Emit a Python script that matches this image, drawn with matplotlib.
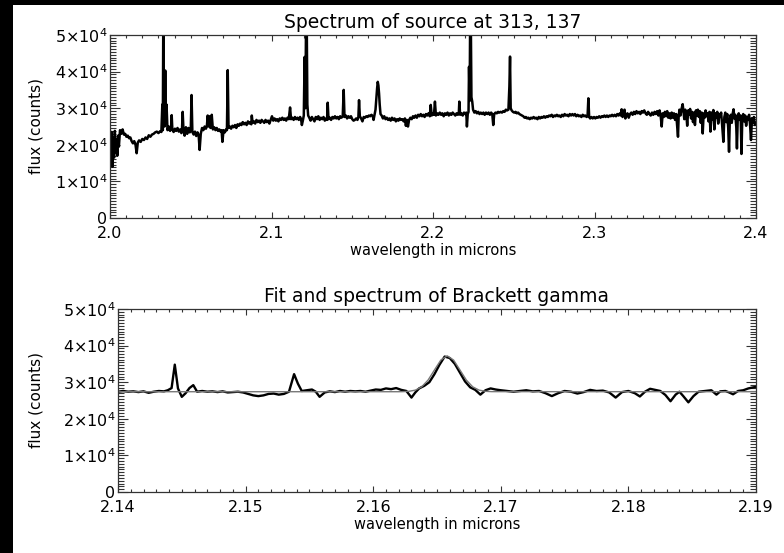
import numpy as np
import matplotlib
matplotlib.use("Agg")
from matplotlib import pyplot as plt
from matplotlib.patches import Rectangle
from matplotlib.ticker import MultipleLocator, FixedLocator, FuncFormatter, FormatStrFormatter

# full K-band spectrum of the source (wavelength in microns, flux in 1e3 counts)
wave_top = [
    2.0000, 2.0005, 2.0010, 2.0015, 2.0020, 2.0025, 2.0030, 2.0035, 2.0040, 2.0045,
    2.0050, 2.0055, 2.0062, 2.0070, 2.0078, 2.0086, 2.0094, 2.0102, 2.0110, 2.0118,
    2.0126, 2.0134, 2.0142, 2.0150, 2.0158, 2.0165, 2.0172, 2.0180, 2.0190, 2.0200,
    2.0210, 2.0220, 2.0230, 2.0240, 2.0250, 2.0260, 2.0270, 2.0280, 2.0290, 2.0300,
    2.0310, 2.0318, 2.0324, 2.0327, 2.0330, 2.0334, 2.0338, 2.0342, 2.0346, 2.0350,
    2.0356, 2.0364, 2.0372, 2.0378, 2.0382, 2.0386, 2.0394, 2.0402, 2.0410, 2.0418,
    2.0426, 2.0434, 2.0442, 2.0446, 2.0450, 2.0455, 2.0462, 2.0470, 2.0478, 2.0486,
    2.0494, 2.0500, 2.0505, 2.0510, 2.0518, 2.0526, 2.0534, 2.0542, 2.0549, 2.0555,
    2.0562, 2.0570, 2.0578, 2.0586, 2.0594, 2.0600, 2.0605, 2.0610, 2.0617, 2.0622,
    2.0630, 2.0637, 2.0645, 2.0653, 2.0661, 2.0669, 2.0677, 2.0685, 2.0691, 2.0696,
    2.0703, 2.0711, 2.0719, 2.0724, 2.0729, 2.0734, 2.0742, 2.0750, 2.0758, 2.0766,
    2.0774, 2.0782, 2.0790, 2.0798, 2.0806, 2.0814, 2.0822, 2.0830, 2.0838, 2.0846,
    2.0854, 2.0862, 2.0870, 2.0875, 2.0878, 2.0883, 2.0891, 2.0899, 2.0907, 2.0915,
    2.0923, 2.0931, 2.0939, 2.0947, 2.0955, 2.0963, 2.0971, 2.0979, 2.0987, 2.0995,
    2.1003, 2.1011, 2.1019, 2.1027, 2.1035, 2.1043, 2.1051, 2.1059, 2.1067, 2.1075,
    2.1083, 2.1091, 2.1099, 2.1107, 2.1115, 2.1121, 2.1129, 2.1137, 2.1145, 2.1153,
    2.1161, 2.1169, 2.1177, 2.1183, 2.1188, 2.1194, 2.1200, 2.1205, 2.1210, 2.1214,
    2.1218, 2.1222, 2.1227, 2.1234, 2.1242, 2.1250, 2.1258, 2.1266, 2.1274, 2.1282,
    2.1290, 2.1298, 2.1306, 2.1314, 2.1322, 2.1330, 2.1338, 2.1344, 2.1348, 2.1353,
    2.1361, 2.1369, 2.1377, 2.1385, 2.1393, 2.1401, 2.1409, 2.1417, 2.1425, 2.1433,
    2.1441, 2.1447, 2.1452, 2.1460, 2.1468, 2.1476, 2.1484, 2.1492, 2.1500, 2.1508,
    2.1516, 2.1524, 2.1532, 2.1538, 2.1542, 2.1547, 2.1555, 2.1563, 2.1571, 2.1579,
    2.1587, 2.1595, 2.1603, 2.1611, 2.1619, 2.1627, 2.1632, 2.1638, 2.1644, 2.1650,
    2.1654, 2.1658, 2.1662, 2.1666, 2.1670, 2.1675, 2.1682, 2.1690, 2.1698, 2.1706,
    2.1714, 2.1722, 2.1730, 2.1738, 2.1746, 2.1754, 2.1762, 2.1770, 2.1778, 2.1786,
    2.1794, 2.1802, 2.1810, 2.1818, 2.1826, 2.1832, 2.1838, 2.1845, 2.1852, 2.1860,
    2.1868, 2.1876, 2.1884, 2.1892, 2.1900, 2.1908, 2.1916, 2.1924, 2.1932, 2.1940,
    2.1948, 2.1956, 2.1964, 2.1972, 2.1980, 2.1986, 2.1992, 2.2000, 2.2006, 2.2012,
    2.2018, 2.2026, 2.2034, 2.2042, 2.2050, 2.2058, 2.2066, 2.2074, 2.2082, 2.2090,
    2.2098, 2.2106, 2.2114, 2.2122, 2.2130, 2.2138, 2.2146, 2.2154, 2.2160, 2.2163,
    2.2168, 2.2176, 2.2184, 2.2192, 2.2200, 2.2206, 2.2210, 2.2215, 2.2220, 2.2223,
    2.2227, 2.2230, 2.2234, 2.2238, 2.2243, 2.2248, 2.2256, 2.2264, 2.2272, 2.2280,
    2.2288, 2.2296, 2.2304, 2.2312, 2.2320, 2.2328, 2.2336, 2.2344, 2.2352, 2.2360,
    2.2367, 2.2373, 2.2379, 2.2387, 2.2395, 2.2403, 2.2411, 2.2419, 2.2427, 2.2435,
    2.2443, 2.2451, 2.2459, 2.2467, 2.2473, 2.2477, 2.2481, 2.2487, 2.2495, 2.2503,
    2.2511, 2.2519, 2.2527, 2.2535, 2.2543, 2.2551, 2.2559, 2.2567, 2.2575, 2.2583,
    2.2591, 2.2599, 2.2607, 2.2615, 2.2623, 2.2631, 2.2639, 2.2647, 2.2655, 2.2663,
    2.2671, 2.2679, 2.2687, 2.2695, 2.2703, 2.2711, 2.2719, 2.2727, 2.2735, 2.2743,
    2.2751, 2.2759, 2.2767, 2.2775, 2.2783, 2.2791, 2.2799, 2.2807, 2.2815, 2.2823,
    2.2831, 2.2839, 2.2847, 2.2855, 2.2863, 2.2871, 2.2879, 2.2887, 2.2895, 2.2903,
    2.2911, 2.2919, 2.2927, 2.2935, 2.2943, 2.2951, 2.2957, 2.2962, 2.2967, 2.2973,
    2.2981, 2.2989, 2.2997, 2.3005, 2.3013, 2.3021, 2.3029, 2.3037, 2.3045, 2.3053,
    2.3061, 2.3069, 2.3077, 2.3085, 2.3093, 2.3101, 2.3109, 2.3117, 2.3125, 2.3133,
    2.3141, 2.3149, 2.3157, 2.3163, 2.3168, 2.3174, 2.3180, 2.3186, 2.3191, 2.3197,
    2.3204, 2.3212, 2.3220, 2.3228, 2.3236, 2.3244, 2.3252, 2.3260, 2.3268, 2.3276,
    2.3284, 2.3292, 2.3300, 2.3308, 2.3316, 2.3324, 2.3332, 2.3340, 2.3348, 2.3356,
    2.3364, 2.3372, 2.3380, 2.3388, 2.3396, 2.3403, 2.3410, 2.3416, 2.3422, 2.3429,
    2.3436, 2.3443, 2.3450, 2.3457, 2.3464, 2.3471, 2.3478, 2.3485, 2.3492, 2.3499,
    2.3506, 2.3512, 2.3517, 2.3521, 2.3526, 2.3532, 2.3539, 2.3546, 2.3551, 2.3556,
    2.3562, 2.3568, 2.3574, 2.3580, 2.3586, 2.3592, 2.3598, 2.3604, 2.3610, 2.3616,
    2.3622, 2.3628, 2.3634, 2.3640, 2.3646, 2.3652, 2.3658, 2.3664, 2.3670, 2.3676,
    2.3682, 2.3688, 2.3694, 2.3700, 2.3706, 2.3712, 2.3718, 2.3724, 2.3730, 2.3736,
    2.3742, 2.3748, 2.3754, 2.3760, 2.3766, 2.3772, 2.3778, 2.3784, 2.3790, 2.3798,
    2.3804, 2.3810, 2.3816, 2.3822, 2.3828, 2.3833, 2.3838, 2.3844, 2.3850, 2.3856,
    2.3861, 2.3866, 2.3872, 2.3878, 2.3882, 2.3887, 2.3893, 2.3899, 2.3905, 2.3910,
    2.3915, 2.3921, 2.3927, 2.3933, 2.3939, 2.3945, 2.3951, 2.3957, 2.3963, 2.3969,
    2.3975, 2.3981, 2.3987, 2.3993, 2.4000,
]
flux_top = [
    21.0, 15.0, 23.5, 14.0, 22.0, 16.5, 23.8, 18.0, 21.5, 17.0,
    22.5, 19.5, 24.0, 23.0, 24.2, 22.8, 23.0, 22.2, 22.5, 21.8,
    22.0, 21.0, 20.4, 21.0, 20.0, 17.7, 20.6, 21.2, 20.8, 21.6,
    21.3, 22.0, 21.6, 22.6, 22.2, 22.8, 23.0, 23.4, 23.6, 23.2,
    23.7, 23.5, 31.0, 24.0, 55.0, 32.0, 25.0, 40.3, 26.0, 31.0,
    24.0, 25.0, 23.8, 24.5, 28.1, 24.2, 23.5, 24.4, 23.8, 24.6,
    23.6, 24.2, 23.2, 24.5, 29.0, 24.0, 22.5, 24.8, 23.0, 24.6,
    23.4, 24.0, 33.6, 23.5, 22.8, 23.6, 22.4, 23.4, 22.6, 18.6,
    23.0, 24.6, 24.0, 25.0, 24.4, 25.2, 28.0, 25.0, 27.8, 24.6,
    28.2, 24.2, 24.8, 24.0, 24.6, 23.8, 24.2, 23.6, 24.0, 20.8,
    24.0, 23.4, 24.2, 24.0, 40.4, 24.6, 25.0, 24.4, 25.2, 24.8,
    25.4, 24.6, 25.6, 25.2, 25.8, 25.4, 26.2, 25.6, 26.0, 25.4,
    26.4, 25.8, 26.2, 25.6, 28.0, 26.0, 26.4, 25.8, 26.8, 26.2,
    26.6, 26.0, 26.8, 26.4, 26.0, 26.8, 26.2, 26.6, 25.8, 26.8,
    27.8, 26.6, 27.2, 26.6, 27.0, 26.4, 27.2, 26.8, 27.4, 26.8,
    27.2, 26.6, 27.4, 27.0, 30.2, 27.0, 27.4, 26.8, 27.6, 27.0,
    27.4, 26.8, 27.6, 27.0, 25.4, 26.6, 28.0, 44.0, 30.0, 55.0,
    55.0, 31.0, 28.0, 27.4, 26.6, 27.6, 27.0, 26.4, 27.6, 27.0,
    27.8, 26.8, 27.4, 27.0, 27.6, 26.6, 27.2, 26.8, 31.5, 27.0,
    27.4, 26.8, 27.6, 27.2, 27.8, 27.2, 27.6, 27.0, 27.8, 27.4,
    27.8, 35.0, 27.6, 28.0, 27.2, 27.8, 27.4, 27.8, 27.0, 26.6,
    26.8, 27.2, 26.8, 27.6, 32.2, 27.8, 27.2, 26.4, 27.6, 27.4,
    27.8, 27.6, 28.0, 27.8, 28.2, 27.8, 26.8, 28.2, 29.6, 33.1,
    35.5, 37.2, 36.2, 34.0, 31.0, 28.4, 28.0, 27.2, 27.8, 27.0,
    27.4, 26.8, 27.2, 26.6, 27.4, 26.8, 27.2, 26.4, 27.0, 26.6,
    27.2, 26.8, 27.0, 26.4, 27.2, 25.2, 26.8, 25.0, 26.8, 27.4,
    27.0, 27.8, 27.4, 28.0, 27.4, 28.2, 27.8, 28.4, 27.8, 28.2,
    27.6, 28.4, 28.0, 28.6, 27.8, 30.9, 28.0, 28.6, 28.2, 31.8,
    28.0, 28.6, 28.2, 28.8, 28.2, 28.6, 27.8, 28.6, 28.2, 28.8,
    28.0, 28.6, 28.2, 28.8, 28.4, 28.0, 28.6, 28.2, 28.8, 31.8,
    28.2, 28.6, 28.0, 28.8, 28.4, 28.8, 25.0, 28.4, 29.0, 41.3,
    32.0, 55.0, 55.0, 33.0, 31.8, 29.6, 28.8, 29.2, 28.6, 29.0,
    28.4, 28.8, 28.4, 28.8, 28.2, 28.8, 28.4, 28.8, 28.2, 28.8,
    28.4, 25.4, 28.4, 28.8, 28.6, 29.0, 28.8, 29.0, 28.8, 29.2,
    29.0, 29.6, 29.4, 29.6, 36.0, 44.1, 30.0, 29.4, 29.0, 28.8,
    29.0, 28.6, 28.8, 28.4, 28.2, 28.0, 27.8, 27.4, 27.6, 27.2,
    27.4, 27.0, 27.4, 27.2, 27.6, 27.2, 27.4, 27.0, 27.6, 27.2,
    27.6, 27.4, 27.8, 27.4, 27.8, 27.6, 28.0, 27.8, 28.2, 27.6,
    28.0, 27.8, 28.2, 27.8, 28.0, 27.6, 28.2, 27.8, 28.4, 28.0,
    28.2, 27.8, 28.4, 28.0, 28.4, 28.0, 28.4, 27.8, 28.2, 27.8,
    28.0, 27.6, 28.2, 27.8, 28.0, 27.6, 27.8, 32.7, 27.6, 27.2,
    27.6, 27.2, 27.6, 27.2, 27.6, 27.4, 27.8, 27.4, 27.8, 27.6,
    28.0, 27.6, 28.0, 27.6, 28.0, 27.8, 28.2, 27.8, 28.2, 27.8,
    28.4, 28.0, 28.6, 28.0, 29.7, 27.6, 28.4, 29.6, 27.2, 28.0,
    28.6, 27.4, 28.4, 28.8, 28.2, 29.0, 28.4, 29.2, 28.6, 29.0,
    28.4, 29.2, 28.8, 29.4, 28.6, 28.2, 29.0, 28.4, 28.0, 28.8,
    28.2, 29.0, 28.4, 29.2, 28.0, 29.4, 27.8, 25.0, 28.6, 27.6,
    29.0, 27.8, 29.2, 27.4, 28.6, 27.2, 28.8, 27.4, 28.6, 26.8,
    28.4, 25.0, 22.2, 27.6, 29.6, 28.0, 29.8, 31.1, 29.0, 27.0,
    29.6, 28.6, 25.2, 29.4, 28.2, 29.8, 27.2, 29.0, 26.2, 28.8,
    25.4, 29.4, 28.0, 29.6, 27.6, 29.2, 26.0, 28.8, 23.1, 28.6,
    27.4, 29.4, 27.8, 28.6, 26.4, 29.0, 23.6, 28.8, 27.0, 29.5,
    24.2, 28.6, 27.4, 29.0, 25.8, 28.4, 27.6, 28.8, 25.6, 20.8,
    27.6, 28.8, 26.2, 28.4, 24.6, 18.1, 27.0, 28.2, 26.0, 28.6,
    29.7, 27.2, 28.2, 24.8, 19.0, 27.4, 28.6, 26.8, 28.0, 17.5,
    27.0, 28.4, 26.4, 28.0, 25.2, 27.6, 26.8, 28.2, 25.6, 21.3,
    27.2, 26.0, 27.6, 25.4, 25.9,
]

# Brackett gamma region: observed spectrum
wave_brg = [
    2.1400, 2.1404, 2.1408, 2.1412, 2.1416, 2.1420, 2.1424, 2.1428, 2.1432, 2.1436,
    2.1439, 2.1442, 2.14445, 2.1447, 2.1450, 2.1453, 2.1456, 2.1459, 2.1462, 2.1466,
    2.1470, 2.1474, 2.1478, 2.1482, 2.1486, 2.1490, 2.1494, 2.1498, 2.1502, 2.1506,
    2.1510, 2.1514, 2.1518, 2.1522, 2.1526, 2.1530, 2.1534, 2.1538, 2.1541, 2.1544,
    2.1548, 2.1552, 2.1555, 2.1558, 2.1562, 2.1566, 2.1570, 2.1574, 2.1578, 2.1582,
    2.1586, 2.1590, 2.1594, 2.1598, 2.1602, 2.1606, 2.1610, 2.1614, 2.1618, 2.1622,
    2.1626, 2.1630, 2.1633, 2.1636, 2.1640, 2.1644, 2.1648, 2.1652, 2.1656, 2.1660,
    2.1664, 2.1668, 2.1672, 2.1676, 2.1680, 2.1684, 2.1688, 2.1692, 2.1696, 2.1700,
    2.1705, 2.1710, 2.1715, 2.1720, 2.1725, 2.1730, 2.1735, 2.1740, 2.1745, 2.1750,
    2.1755, 2.1760, 2.1765, 2.1770, 2.1775, 2.1780, 2.1785, 2.1790, 2.1795, 2.1800,
    2.1805, 2.1809, 2.1813, 2.1817, 2.1821, 2.1825, 2.1829, 2.1833, 2.1837, 2.1840,
    2.1843, 2.1847, 2.1851, 2.1855, 2.1860, 2.1865, 2.1869, 2.1872, 2.1876, 2.1879,
    2.1882, 2.1886, 2.1890, 2.1894, 2.1898, 2.1900,
]
flux_brg = [
    27.4, 27.6, 27.4, 27.5, 27.3, 27.5, 27.1, 27.4, 27.6, 27.5,
    27.8, 28.4, 34.8, 28.3, 26.0, 27.0, 28.4, 29.2, 27.4, 27.6,
    27.4, 27.5, 27.3, 27.5, 27.2, 27.3, 27.4, 27.2, 26.8, 26.4,
    26.2, 26.4, 26.8, 26.9, 26.6, 26.8, 27.4, 32.2, 29.6, 27.6,
    27.8, 28.0, 27.4, 26.0, 27.2, 27.5, 27.3, 27.6, 27.4, 27.6,
    27.5, 27.6, 27.4, 27.7, 28.0, 27.9, 28.3, 28.1, 28.4, 27.9,
    27.6, 25.8, 27.2, 28.3, 29.0, 30.0, 32.2, 34.8, 37.0, 36.6,
    35.0, 32.6, 30.2, 28.6, 27.9, 26.6, 27.8, 28.3, 28.0, 27.8,
    27.6, 27.4, 27.6, 27.8, 27.5, 27.6, 27.0, 26.2, 27.0, 27.6,
    27.4, 26.9, 27.3, 27.9, 27.6, 27.7, 27.2, 25.8, 27.3, 27.6,
    27.0, 26.1, 27.4, 28.2, 27.9, 27.6, 26.5, 24.8, 26.6, 27.4,
    26.2, 24.5, 26.2, 27.4, 27.6, 27.8, 26.6, 27.5, 27.6, 27.2,
    26.7, 27.6, 27.8, 28.3, 28.6, 28.7,
]

# continuum + gaussian fit to the line
wave_fit = [2.1400, 2.1620, 2.1623, 2.1628, 2.1633, 2.1638, 2.1643, 2.1648, 2.1653,
            2.1658, 2.1663, 2.1668, 2.1673, 2.1678, 2.1683, 2.1688, 2.1693, 2.1900]
flux_fit = [27.4, 27.4, 27.42, 27.51, 27.83, 28.73, 30.58, 33.34, 36.05,
            37.2, 36.05, 33.34, 30.58, 28.73, 27.83, 27.51, 27.42, 27.4]

assert len(wave_top) == len(flux_top)
assert len(wave_brg) == len(flux_brg)

yticks = [0, 1e4, 2e4, 3e4, 4e4, 5e4]


def sci(v, pos):
    if v == 0:
        return '0'
    return '%d×10$^{4}$' % round(v / 1e4)


plt.rcParams['mathtext.fontset'] = 'dejavusans'
plt.rcParams['font.family'] = 'DejaVu Sans'

fig = plt.figure(figsize=(7.84, 5.53), dpi=100)
fig.patch.set_facecolor('black')
# white page, black strip on the left and top
fig.patches.append(Rectangle((13 / 784, 0), 1 - 13 / 784, 1 - 5 / 553,
                             transform=fig.transFigure, facecolor='white',
                             edgecolor='none', zorder=-10))


def style(ax, xmajor, xminor, fmt):
    ax.set_facecolor('white')
    ax.set_ylim(0, 5e4)
    ax.yaxis.set_major_locator(FixedLocator(yticks))
    ax.yaxis.set_minor_locator(FixedLocator(np.linspace(0, 5e4, 66)))
    ax.yaxis.set_major_formatter(FuncFormatter(sci))
    ax.xaxis.set_major_locator(MultipleLocator(xmajor))
    ax.xaxis.set_minor_locator(MultipleLocator(xminor))
    ax.xaxis.set_major_formatter(FormatStrFormatter(fmt))
    ax.tick_params(which='both', direction='in', top=True, right=True,
                   color='#333333', width=0.8)
    ax.tick_params(axis='x', which='major', length=4.5, labelsize=11.5, pad=6)
    ax.tick_params(axis='x', which='minor', length=2.2)
    ax.tick_params(axis='y', which='major', length=7.5, labelsize=11.5, pad=2)
    ax.tick_params(axis='y', which='minor', length=4.3)
    for s in ax.spines.values():
        s.set_color('#333333')
        s.set_linewidth(0.9)
    ax.set_xlabel('wavelength in microns', fontsize=10.5, labelpad=1)
    ax.set_ylabel('flux (counts)', fontsize=11)


# upper panel: whole spectrum
ax1 = fig.add_axes([110 / 784, 1 - 218 / 553, 646 / 784, 183 / 553])
ax1.plot(wave_top, np.array(flux_top) * 1e3, color='black', lw=1.8)
ax1.set_xlim(2.0, 2.4)
style(ax1, 0.1, 0.01, '%.1f')
ax1.set_title('Spectrum of source at 313, 137', fontsize=13.5, pad=5)
ax1.yaxis.set_label_coords(-0.103, 0.5)

# lower panel: Br gamma with fit
ax2 = fig.add_axes([118 / 784, 1 - 492 / 553, 638 / 784, 183 / 553])
ax2.plot(wave_brg, np.array(flux_brg) * 1e3, color='black', lw=1.7)
ax2.plot(wave_fit, np.array(flux_fit) * 1e3, color='#777777', lw=1.0)
ax2.set_xlim(2.14, 2.19)
style(ax2, 0.01, 0.001, '%.2f')
ax2.set_title('Fit and spectrum of Brackett gamma', fontsize=13.5, pad=5)
ax2.yaxis.set_label_coords(-0.116, 0.5)

fig.savefig('out.png', dpi=100, facecolor=fig.get_facecolor())
